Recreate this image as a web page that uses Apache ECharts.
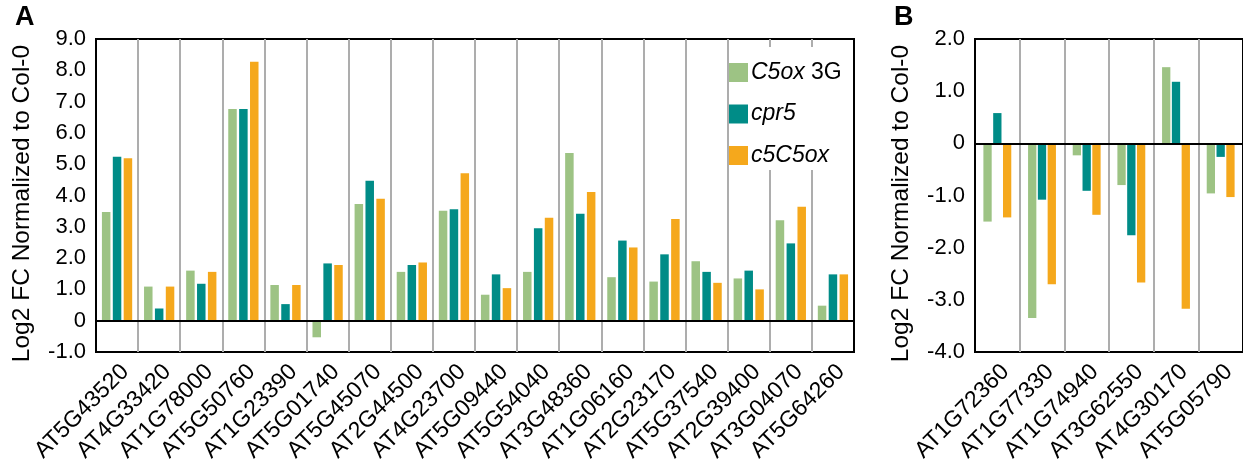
<!DOCTYPE html>
<html>
<head>
<meta charset="utf-8">
<script src="https://cdn.jsdelivr.net/npm/echarts@6/dist/echarts.min.js"></script>
<style>
  html, body { margin: 0; padding: 0; background: #fff; }
  #chart { width: 1243px; height: 467px; }
</style>
</head>
<body>
<div id="chart"></div>
<script>
// Panel A: genes up-regulated (log2 fold change vs Col-0)
const genesA = ['AT5G43520','AT4G33420','AT1G78000','AT5G50760','AT1G23390','AT5G01740',
  'AT5G45070','AT2G44500','AT4G23700','AT5G09440','AT5G54040','AT3G48360',
  'AT1G06160','AT2G23170','AT5G37540','AT2G39400','AT3G04070','AT5G64260'];
const c5ox3gA = [3.47, 1.09, 1.60, 6.76, 1.14, -0.53, 3.73, 1.56, 3.51, 0.83, 1.56, 5.36, 1.39, 1.25, 1.90, 1.35, 3.21, 0.48];
const cpr5A   = [5.24, 0.39, 1.18, 6.76, 0.53, 1.83, 4.47, 1.78, 3.56, 1.48, 2.95, 3.42, 2.56, 2.12, 1.56, 1.60, 2.47, 1.48];
const c5C5oxA = [5.19, 1.09, 1.56, 8.27, 1.14, 1.78, 3.90, 1.86, 4.71, 1.04, 3.29, 4.11, 2.34, 3.25, 1.21, 1.00, 3.64, 1.48];

// Panel B: genes with mostly reduced expression
const genesB = ['AT1G72360','AT1G77330','AT1G74940','AT3G62550','AT4G30170','AT5G05790'];
const c5ox3gB = [-1.50, -3.35, -0.23, -0.80, 1.46, -0.96];
const cpr5B   = [0.58, -1.08, -0.91, -1.76, 1.18, -0.26];
const c5C5oxB = [-1.42, -2.70, -1.37, -2.67, -3.17, -1.03];

const seriesNames = ['C5ox 3G', 'cpr5', 'c5C5ox'];
const colors = ['#9DC384', '#008C87', '#F5A81C'];
const axisTitle = 'Log2 FC Normalized to Col-0';

const FONT = '"Liberation Sans", Arial, Helvetica, sans-serif';

const chart = echarts.init(document.getElementById('chart'), null, { renderer: 'canvas' });

function tickFmt(v) { return v === 0 ? '0' : v.toFixed(1); }

function makeXAxis(gridIndex, cats) {
  return {
    type: 'category', gridIndex, data: cats,
    axisLine: { show: false, onZero: false },
    axisTick: { show: false },
    axisLabel: { rotate: 45, interval: 0, margin: 8, verticalAlign: 'top', fontSize: 23, color: '#000', fontFamily: FONT },
    splitLine: { show: true, showMinLine: false, showMaxLine: false, lineStyle: { color: '#ADADAD', width: 2 } }
  };
}

function makeYAxis(gridIndex, min, max) {
  return {
    type: 'value', gridIndex, min, max, interval: 1,
    name: axisTitle, nameLocation: 'middle', nameGap: 61,
    nameTextStyle: { fontSize: 24.5, color: '#000', fontFamily: FONT, padding: [0, 16, 0, 0] },
    axisLine: { show: false },
    axisTick: { show: false },
    splitLine: { show: false },
    axisLabel: { formatter: tickFmt, fontSize: 22, color: '#000', margin: 10, fontFamily: FONT }
  };
}

const zeroLine = {
  silent: true, symbol: 'none', label: { show: false },
  lineStyle: { color: '#000', width: 2, type: 'solid' },
  emphasis: { disabled: true },
  data: [{ yAxis: 0 }]
};

function makeSeries(idx, dataSets, barWidth, barGap) {
  return dataSets.map((d, i) => ({
    name: seriesNames[i], type: 'bar',
    xAxisIndex: idx, yAxisIndex: idx,
    data: d, barWidth, barGap,
    itemStyle: { color: colors[i] },
    emphasis: { disabled: true },
    markLine: i === 0 ? zeroLine : undefined
  }));
}

chart.setOption({
  animation: false,
  textStyle: { fontFamily: FONT },
  grid: [
    { left: 96, top: 39, width: 758, height: 313, show: true, borderColor: '#000', borderWidth: 2, containLabel: false },
    { left: 975, top: 39, width: 271, height: 313, show: true, borderColor: '#000', borderWidth: 2, containLabel: false }
  ],
  xAxis: [makeXAxis(0, genesA), makeXAxis(1, genesB)],
  yAxis: [makeYAxis(0, -1, 9), makeYAxis(1, -4, 2)],
  legend: {
    orient: 'vertical', left: 729, top: 47,
    padding: [14, 4, 3, 0],
    backgroundColor: '#fff',
    icon: 'rect', itemWidth: 19, itemHeight: 19, itemGap: 18.5,
    data: seriesNames,
    formatter: function (name) {
      return name === 'C5ox 3G' ? '{i|C5ox} 3G' : '{i|' + name + '}';
    },
    textStyle: {
      fontSize: 23, color: '#000', fontFamily: FONT, lineHeight: 19, padding: [0, 0, 0, -2],
      rich: { i: { fontStyle: 'italic', fontSize: 23, color: '#000', fontFamily: FONT, lineHeight: 19 } }
    },
    selectedMode: false
  },
  graphic: [
    { type: 'text', left: 15, top: 4, style: { text: 'A', font: 'bold 27px ' + FONT, fill: '#000' } },
    { type: 'text', left: 894, top: 4, style: { text: 'B', font: 'bold 27px ' + FONT, fill: '#000' } }
  ],
  series: [
    ...makeSeries(0, [c5ox3gA, cpr5A, c5C5oxA], 8.5, '28%'),
    ...makeSeries(1, [c5ox3gB, cpr5B, c5C5oxB], 8.3, '18%')
  ]
});
</script>
</body>
</html>
